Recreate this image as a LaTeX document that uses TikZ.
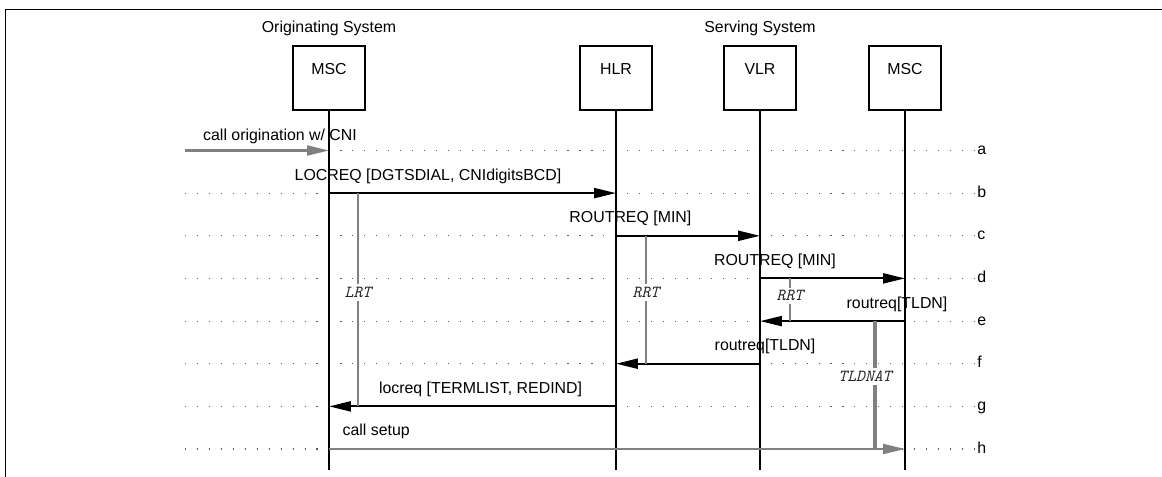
\documentclass[tikz,border=0pt]{standalone}
\usepackage{fontspec}
\setmainfont{Liberation Sans}
\usetikzlibrary{arrows.meta}
\definecolor{sig}{RGB}{128,128,128}
\definecolor{dots}{RGB}{90,90,90}
\newcommand{\msgfont}{\fontsize{11.3}{13.5}\selectfont}

\begin{document}
\begin{tikzpicture}[x=0.025cm,y=-0.025cm,
  ent/.style={draw,line width=1.2pt,minimum width=51.2pt,inner xsep=0pt,inner ysep=0pt,
              text height=20.6pt,text depth=24.9pt,font=\msgfont},
  head/.style={anchor=base,inner sep=0pt,font=\msgfont},
  life/.style={line width=1.3pt},
  grid/.style={dots,line width=0.8pt,dash pattern=on 0.8pt off 7.7pt},
  msg/.style={line width=1.5pt,-{Triangle[length=15.6pt,width=7.1pt]}},
  gmsg/.style={msg,sig},
  lbl/.style={anchor=base,inner sep=0pt,yshift=0.325cm,text=black,font=\msgfont},
  tag/.style={anchor=base west,inner sep=0pt,font=\msgfont},
  timer/.style={sig,line width=1.4pt},
  tlbl/.style={fill=white,inner sep=2pt,text=black!85,
               font=\ttfamily\itshape\fontsize{12}{14}\selectfont}]

  \useasboundingbox (0,0) rectangle (1162,477);

  % frame
  \draw[line width=1.4pt] (5.5,477) -- (5.5,9.5) -- (1162,9.5);

  \node[head] (orig) at (329,32.5) {Originating System};
  \node[head] (serv) at (760,32.5) {Serving System};

  \node[ent] (MSCo) at (329,78) {MSC};
  \node[ent] (HLR)  at (616,78) {HLR};
  \node[ent] (VLR)  at (760,78) {VLR};
  \node[ent] (MSCs) at (905,78) {MSC};

  % rows a..h
  \foreach \r/\y in {a/150.5,b/193.1,c/235.8,d/278.4,e/321.1,f/363.7,g/406.4,h/449.0}{
    \foreach \l/\x in {MSCo/329,HLR/616,VLR/760,MSCs/905}
      \coordinate (\l-\r) at (\x,\y);
    \coordinate (L-\r) at (185,\y);
    \coordinate (R-\r) at (975,\y);
    \draw[grid] (L-\r) -- (R-\r);
    \node[tag] (tag-\r) at (977,\y+4) {\r};
  }

  \foreach \l/\x in {MSCo/329,HLR/616,VLR/760,MSCs/905}{
    \coordinate (\l-end) at (\x,470);
    \draw[life] (\l) -- (\l-end);
  }

  \draw[gmsg] (L-a) -- node[lbl,pos=0.66,yshift=-0.08cm] {call origination w/ CNI} (MSCo-a);
  \draw[msg] (MSCo-b) -- node[lbl,pos=0.345] {LOCREQ [DGTSDIAL, CNIdigitsBCD]} (HLR-b);
  \draw[msg] (HLR-c) -- node[lbl,pos=0.10] {ROUTREQ [MIN]} (VLR-c);
  \draw[msg] (VLR-d) -- node[lbl,pos=0.103] {ROUTREQ [MIN]} (MSCs-d);
  \draw[msg] (MSCs-e) -- node[lbl,pos=0.055] {routreq[TLDN]} (VLR-e);
  \draw[msg] (VLR-f) -- node[lbl,pos=-0.035] {routreq[TLDN]} (HLR-f);
  \draw[msg] (HLR-g) -- node[lbl,pos=0.472] {locreq [TERMLIST, REDIND]} (MSCo-g);
  \draw[gmsg] (MSCo-h) -- node[lbl,pos=0.082] {call setup} (MSCs-h);

  % timers
  \coordinate (lrt-s) at (358,193.1);   \coordinate (lrt-e) at (358,406.4);
  \coordinate (rrtH-s) at (646,235.8);  \coordinate (rrtH-e) at (646,363.7);
  \coordinate (rrtV-s) at (790,278.4);  \coordinate (rrtV-e) at (790,321.1);
  \coordinate (tldn-s) at (875,321.1);  \coordinate (tldn-e) at (875,449.0);

  \draw[timer] (lrt-s) -- node[tlbl,pos=0.466] {LRT} (lrt-e);
  \draw[timer] (rrtH-s) -- node[tlbl,pos=0.443] {RRT} (rrtH-e);
  \draw[timer] (rrtV-s) -- node[tlbl,pos=0.41] {RRT} (rrtV-e);
  \draw[timer,line width=2.2pt] (tldn-s) -- node[tlbl,pos=0.433,xshift=-0.25cm] {TLDNAT} (tldn-e);
\end{tikzpicture}
\end{document}
